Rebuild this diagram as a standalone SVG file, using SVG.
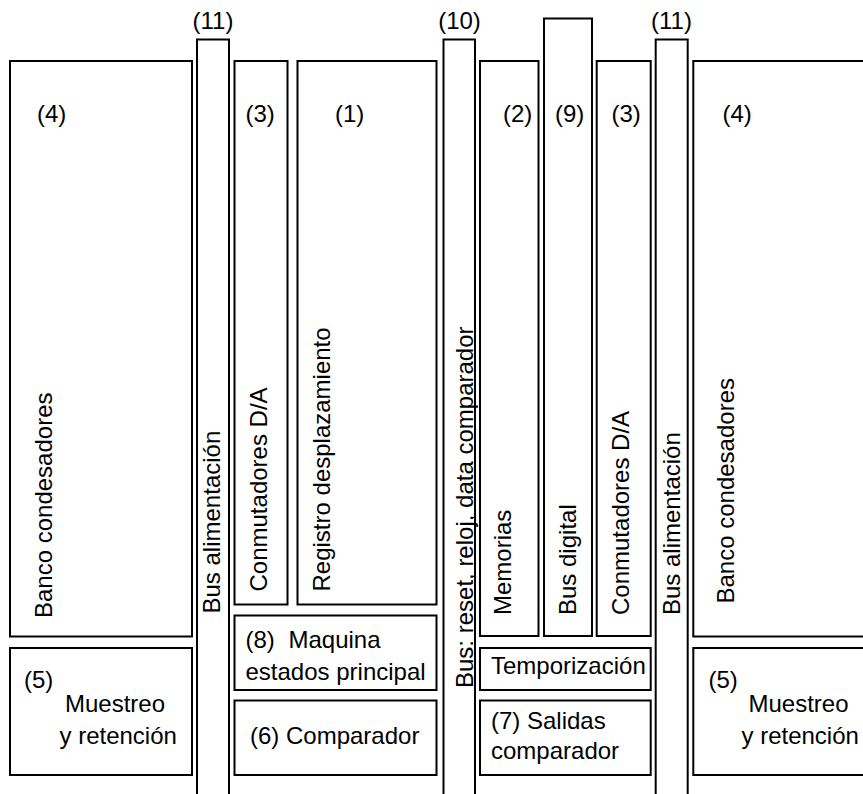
<svg xmlns="http://www.w3.org/2000/svg" width="863" height="794" viewBox="0 0 863 794">
<style>
.b{fill:#fff;stroke:#000;stroke-width:2}
.o{fill:none;stroke:#000;stroke-width:2}
text{font-family:"Liberation Sans",Arial,sans-serif;font-size:24px;fill:#000}
</style>
<rect x="0" y="0" width="863" height="794" fill="#fff"/>
<g id="connectors"></g>
<g id="banco-izq"><rect class="b" x="10" y="61" width="182" height="575.5"/><text x="37" y="122">(4)</text><text transform="translate(52,618) rotate(-90)">Banco condesadores</text></g>
<g id="muestreo-izq"><rect class="b" x="10" y="648" width="182" height="127"/><text x="24" y="688">(5)</text><text x="65" y="711.5">Muestreo</text><text x="59.5" y="743.5">y retención</text></g>
<g id="bus-alim-izq"><path class="o" d="M197,800 V39.5 H229 V800"/><text x="213" y="29" text-anchor="middle">(11)</text><text transform="translate(219.5,613.5) rotate(-90)">Bus alimentación</text></g>
<g id="conmut-izq"><rect class="b" x="234.5" y="61" width="53" height="543.5"/><text x="245.5" y="122">(3)</text><text transform="translate(266.5,591.5) rotate(-90)">Conmutadores D/A</text></g>
<g id="registro"><rect class="b" x="297.5" y="61" width="139" height="543.5"/><text x="335" y="122">(1)</text><text transform="translate(330,591.5) rotate(-90)">Registro desplazamiento</text></g>
<g id="maquina"><rect class="b" x="234.5" y="615.5" width="202" height="74.5"/><text x="245.5" y="648">(8)</text><text x="288.5" y="648">Maquina</text><text x="245.5" y="680">estados principal</text></g>
<g id="comparador"><rect class="b" x="234.5" y="700.5" width="202" height="74.5"/><text x="250" y="743.5">(6) Comparador</text></g>
<g id="bus-reset"><path class="o" d="M443.5,800 V39.5 H475 V800"/><text x="459.5" y="29" text-anchor="middle">(10)</text><text transform="translate(472.5,688) rotate(-90)">Bus: reset, reloj, data comparador</text></g>
<g id="memorias"><rect class="b" x="480" y="61" width="58.5" height="575"/><text x="503" y="122">(2)</text><text transform="translate(511,615) rotate(-90)">Memorias</text></g>
<g id="bus-digital"><rect class="b" x="544" y="18.5" width="48" height="617.5"/><text x="555" y="122">(9)</text><text transform="translate(575.5,615) rotate(-90)">Bus digital</text></g>
<g id="conmut-der"><rect class="b" x="596.7" y="61" width="54" height="575"/><text x="611.5" y="122">(3)</text><text transform="translate(628.5,615) rotate(-90)">Conmutadores D/A</text></g>
<g id="temporizacion"><rect class="b" x="480" y="648" width="170.7" height="42"/><text x="491" y="674">Temporización</text></g>
<g id="salidas"><rect class="b" x="480" y="700.5" width="170.7" height="74.5"/><text x="491" y="728.5">(7) Salidas</text><text x="491" y="758.5">comparador</text></g>
<g id="bus-alim-der"><path class="o" d="M655.7,800 V39.5 H687.7 V800"/><text x="671.5" y="29" text-anchor="middle">(11)</text><text transform="translate(680,615) rotate(-90)">Bus alimentación</text></g>
<g id="banco-der"><rect class="b" x="693.3" y="61" width="200" height="575.5"/><text x="722.5" y="122">(4)</text><text transform="translate(733.5,603.5) rotate(-90)">Banco condesadores</text></g>
<g id="muestreo-der"><rect class="b" x="693.3" y="648" width="200" height="127"/><text x="708.5" y="688">(5)</text><text x="748.5" y="711.5">Muestreo</text><text x="741.5" y="743.5">y retención</text></g>
</svg>
